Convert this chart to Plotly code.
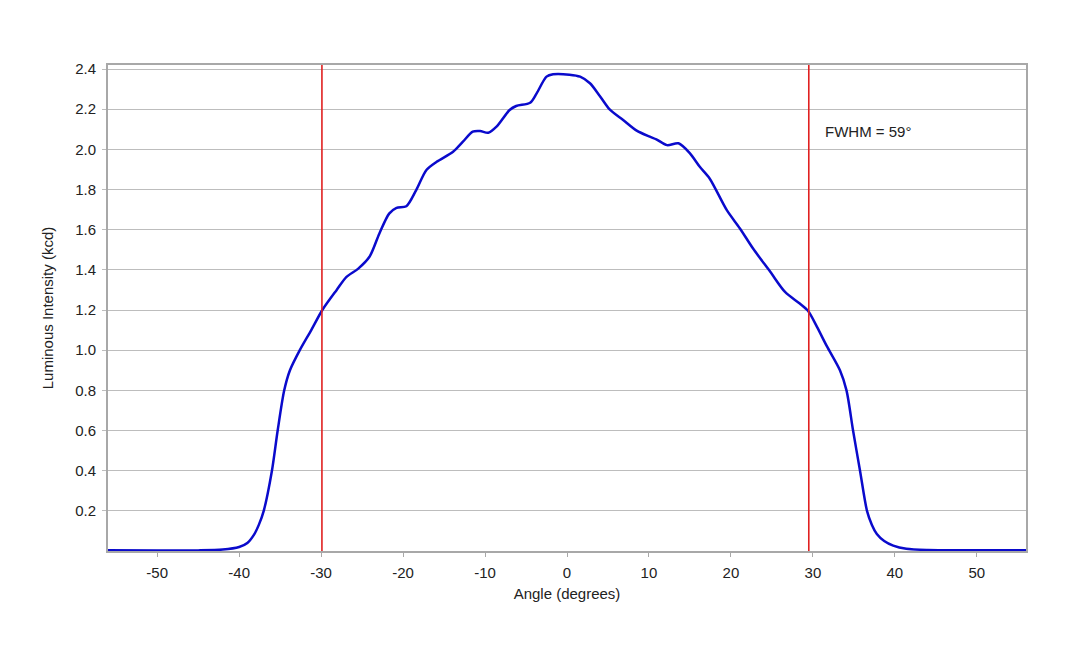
import plotly.graph_objects as go

angle = [-56, -50, -45, -42, -40, -39, -38.2, -37.6, -37.0, -36.0, -35.3, -34.5, -33.8, -32.6, -31.2,
         -29.85, -28.1, -26.9, -25.5, -24.1, -22.9, -21.7, -20.8, -19.6, -18.4, -17.15, -15.9,
         -13.9, -12.7, -11.5, -10.6, -9.6, -8.6, -7.0, -6.2, -4.5, -3.7, -2.5, -1.7, 0.3, 1.6,
         2.8, 4.0, 5.2, 6.85, 8.5, 10.1, 10.9, 12.2, 13.6, 15.0, 16.2, 17.4, 19.5, 21.1, 22.7,
         24.8, 26.6, 28.4, 29.4, 30.5, 31.7, 33.3, 34.1, 34.9, 35.75, 36.6, 37.2, 37.8, 38.7,
         39.8, 41.4, 44, 50, 56]
intensity = [0.004, 0.003, 0.003, 0.007, 0.02, 0.04, 0.08, 0.13, 0.2, 0.4, 0.6, 0.8, 0.9, 1.0, 1.1,
             1.2, 1.3, 1.365, 1.405, 1.465, 1.58, 1.68, 1.709, 1.717, 1.797, 1.897, 1.938,
             1.988, 2.038, 2.088, 2.091, 2.083, 2.113, 2.196, 2.216, 2.232, 2.279, 2.362, 2.374,
             2.372, 2.362, 2.329, 2.266, 2.199, 2.146, 2.093, 2.063, 2.05, 2.021, 2.03, 1.98,
             1.913, 1.855, 1.697, 1.606, 1.506, 1.39, 1.29, 1.232, 1.196, 1.116, 1.02, 0.9,
             0.8, 0.6, 0.4, 0.2, 0.13, 0.085, 0.05,
             0.027, 0.011, 0.005, 0.004, 0.004]

fwhm_edges = [-29.9, 29.5]
x_ticks = [-50, -40, -30, -20, -10, 0, 10, 20, 30, 40, 50]
x_tick_labels = ["-50", "-40", "-30", "-20", "-10", "0", "10", "20", "30", "40", "50"]
y_ticks = [0.2, 0.4, 0.6, 0.8, 1.0, 1.2, 1.4, 1.6, 1.8, 2.0, 2.2, 2.4]
y_tick_labels = ["0.2", "0.4", "0.6", "0.8", "1.0", "1.2", "1.4", "1.6", "1.8", "2.0", "2.2", "2.4"]
annotation_text = "FWHM = 59°"

fig = go.Figure()
fig.add_trace(go.Scatter(x=angle, y=intensity, mode="lines",
                         line=dict(color="#0A0ACC", width=2.5, shape="spline", smoothing=0.8),
                         showlegend=False, hoverinfo="skip"))

for xv in fwhm_edges:
    fig.add_shape(type="line", x0=xv, x1=xv, y0=0, y1=1, yref="paper",
                  line=dict(color="#E02020", width=1.6))

fig.add_annotation(x=31.25, y=2.09, text=annotation_text, showarrow=False,
                   xanchor="left", yanchor="middle",
                   font=dict(size=15, color="#222222"))

font = "Liberation Sans, Arial, sans-serif"
fig.update_layout(
    width=1080, height=648,
    margin=dict(l=108, r=54, t=65, b=97),
    paper_bgcolor="white", plot_bgcolor="white",
    font=dict(family=font, size=15, color="#222222"),
    xaxis=dict(range=[-56, 56], tickvals=x_ticks, ticktext=x_tick_labels,
               showgrid=False, zeroline=False, showline=True, mirror=True,
               linecolor="#A8A8A8", linewidth=2, ticks="outside", ticklen=4,
               tickcolor="#A8A8A8", ticklabelstandoff=3,
               title=dict(text="Angle (degrees)", standoff=8, font=dict(size=15))),
    yaxis=dict(range=[0, 2.42], tickvals=y_ticks, ticktext=y_tick_labels,
               showgrid=True, gridcolor="#BDBDBD", gridwidth=1, zeroline=False,
               showline=True, mirror=True, linecolor="#A8A8A8", linewidth=2,
               ticks="outside", ticklen=4, tickcolor="#BDBDBD", ticklabelstandoff=3,
               title=dict(text="Luminous Intensity (kcd)", standoff=18,
                          font=dict(size=15))),
)

fig.write_html("out.html")
